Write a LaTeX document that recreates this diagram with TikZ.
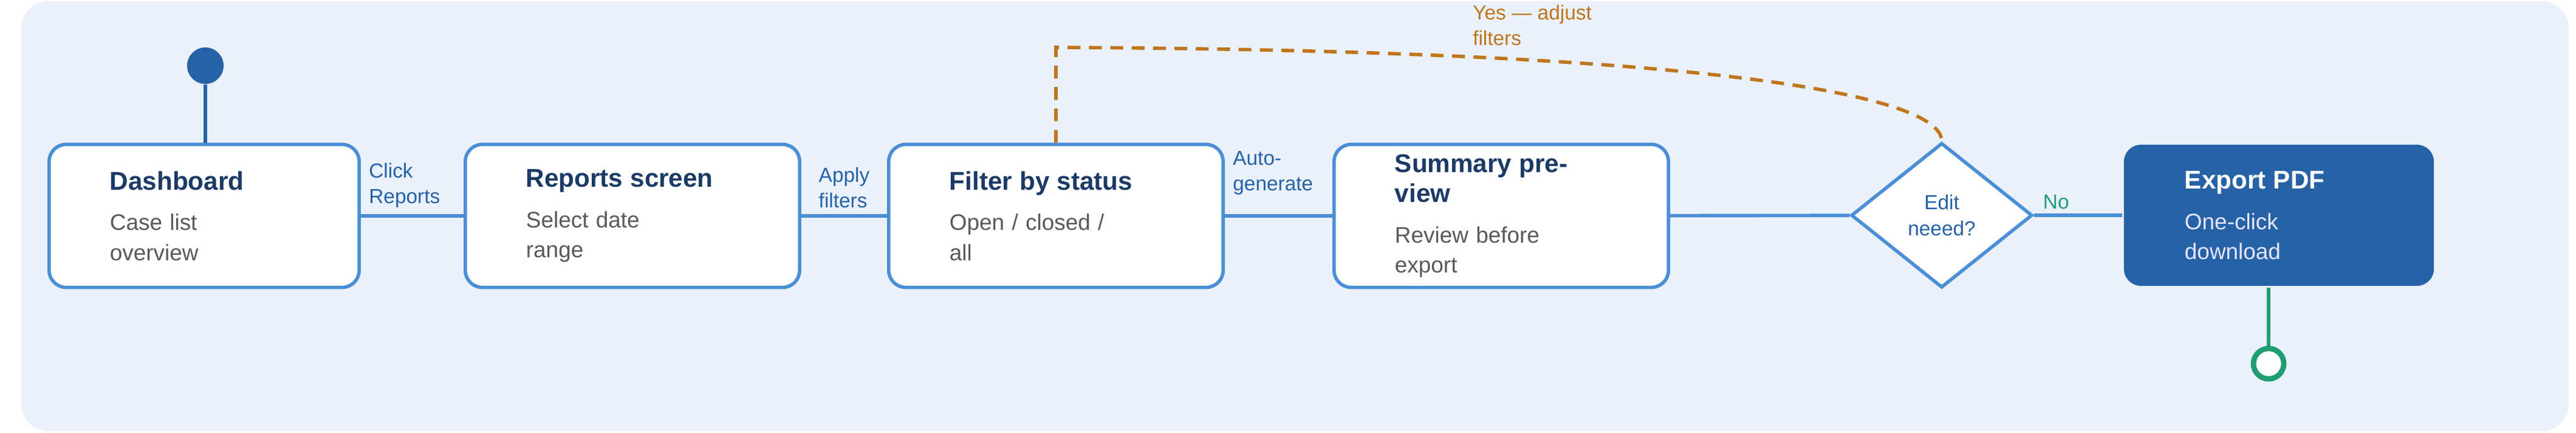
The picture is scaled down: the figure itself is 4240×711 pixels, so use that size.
\documentclass[tikz,border=0pt]{standalone}
\usepackage{fontspec}
\setmainfont{Liberation Sans}
\usetikzlibrary{positioning,shapes.geometric}
\definecolor{flowblue}{HTML}{4A8FD6}
\definecolor{navy}{HTML}{1B3A66}
\definecolor{darkblue}{HTML}{2662A6}
\definecolor{bgblue}{HTML}{EAF1FB}
\definecolor{loopbrown}{HTML}{BF761C}
\definecolor{okgreen}{HTML}{1E9E72}
\tikzset{
  stage/.style={
    draw=flowblue,
    line width=1.6pt,
    rounded corners=0.28cm,
    fill=white,
    minimum width=5.1cm,
    minimum height=2.35cm,
    text width=3.5cm,
    inner xsep=1.0cm,
    align=left,
    font=\fontsize{10.5}{14}\selectfont,
    text=black!65
  },
  link/.style={
    draw=flowblue,
    line width=1.6pt
  },
  elabel/.style={
    font=\fontsize{9.5}{12}\selectfont,
    text=darkblue,
    align=left,
    inner sep=1pt
  }
}
\newcommand{\stagetitle}[1]{{\fontsize{12}{17}\selectfont\bfseries\color{navy}#1}\\[5pt]}
\begin{document}
\begin{tikzpicture}[x=0.01cm,y=-0.01cm]
  % background
  \useasboundingbox (0,0) rectangle (4240,711);
  \fill[bgblue, rounded corners=0.45cm] (35,2) rectangle (4228,709);

  % Stages
  \node[stage, text width=3.1cm] (dash) at (336,355) {\stagetitle{Dashboard}Case list\\overview};
  \node[stage, minimum width=5.5cm] (reports) at (1041,355) {\stagetitle{Reports screen}Select date\\range};
  \node[stage, minimum width=5.5cm] (filter) at (1738,355) {\stagetitle{Filter by status}Open / closed /\\all};
  \node[stage, minimum width=5.5cm] (summary) at (2471,355) {\stagetitle{Summary preview}Review before\\export};
  \node[diamond, draw=flowblue, line width=1.6pt, fill=white, aspect=1.25,
        minimum width=2.98cm, minimum height=2.38cm, inner sep=0pt, align=center,
        font=\fontsize{9.5}{12}\selectfont, text=darkblue] (decide) at (3196,354) {Edit\\neeed?};
  \node[stage, draw=none, fill=darkblue, minimum width=5.1cm, minimum height=2.32cm,
        text width=3.1cm, text=blue!10!white] (export) at (3751,354)
        {{\fontsize{12}{17}\selectfont\bfseries\color{white}Export PDF}\\[5pt]One-click\\download};

  % Start and end
  \node[circle, fill=darkblue, minimum size=0.6cm, inner sep=0pt] (start) at (338,108) {};
  \node[circle, draw=okgreen, line width=2.5pt, fill=white, minimum size=0.5cm, inner sep=0pt] (finish) at (3734,598) {};
  \draw[darkblue, line width=1.6pt] (start) -- (start |- dash.north);
  \draw[okgreen, line width=1.6pt] (finish) -- (finish |- export.south);

  % Edges
  \draw[link] (dash) -- (reports) node[elabel, pos=0, anchor=south west, xshift=2pt, yshift=2pt] {Click\\Reports};
  \draw[link] (reports) -- (filter) node[elabel, pos=0.5, anchor=south, yshift=2pt] {Apply\\filters};
  \draw[link] (filter) -- (summary) node[elabel, pos=0, anchor=south west, xshift=2pt, yshift=8pt] {Auto-\\generate};
  \draw[link] (summary) -- (decide);
  \draw[link] (decide) -- (export) node[elabel, pos=0.25, anchor=south, text=okgreen, yshift=1pt] {No};

  % Loop back
  \coordinate (bend) at (1744,78);
  \draw[loopbrown, line width=1.6pt, dash pattern=on 6pt off 4pt]
    (filter.north) -- (filter.north |- bend) .. controls (2750,82) and (3196,150) .. (decide.north);
  \node[elabel, text=loopbrown, anchor=north west] (yes) at (2420,4) {Yes — adjust\\filters};
\end{tikzpicture}
\end{document}
